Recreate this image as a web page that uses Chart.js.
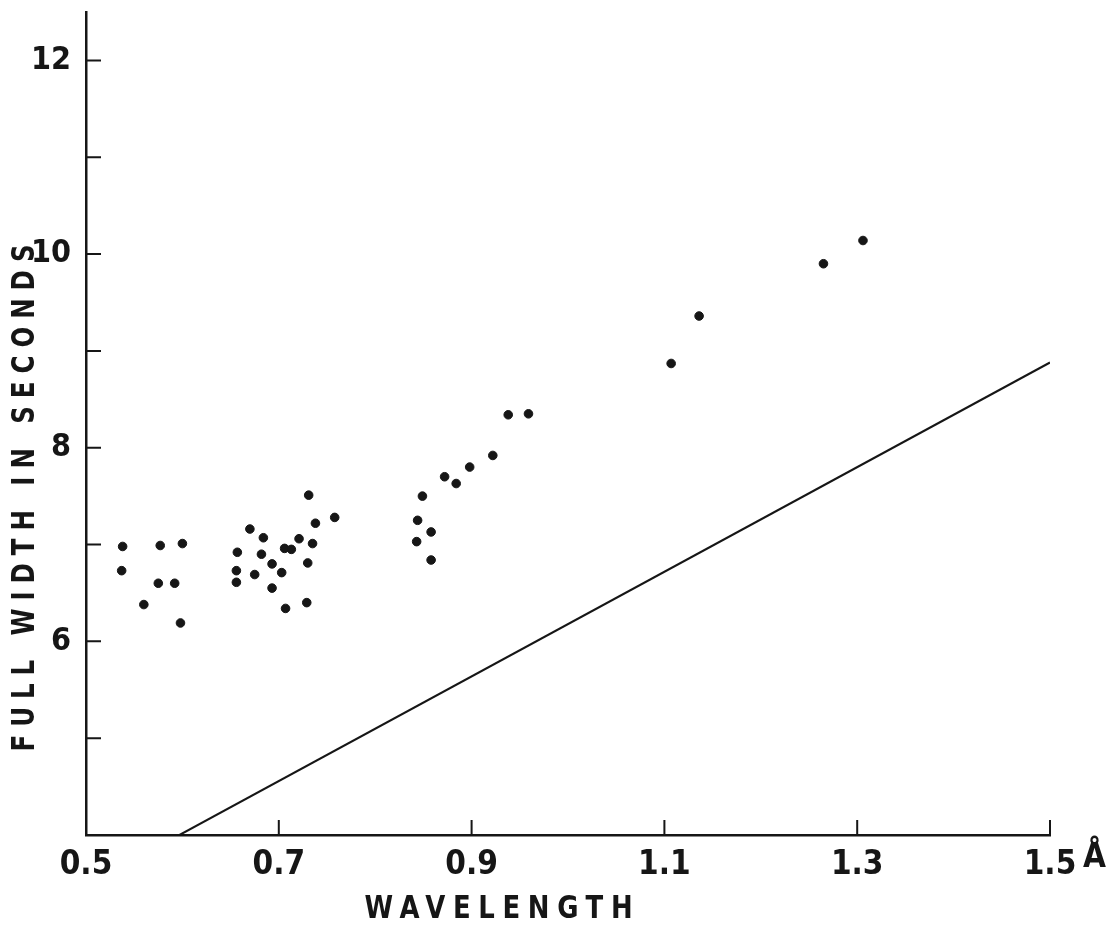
<!DOCTYPE html>
<html>
<head>
<meta charset="utf-8">
<script src="https://cdn.jsdelivr.net/npm/chart.js@4"></script>
<style>
  body { margin: 0; background: #fff; }
  #wrap { width: 1112px; height: 926px; }
</style>
</head>
<body>
<div id="wrap"><canvas id="widthChart"></canvas></div>
<script>
// measured points (wavelength in A, full width in seconds)
const wavelength = [0.538, 0.537, 0.577, 0.600, 0.575, 0.592, 0.560, 0.598,
    0.670, 0.684, 0.721, 0.738, 0.735, 0.657, 0.682, 0.706, 0.713, 0.693, 0.730,
    0.656, 0.675, 0.703, 0.656, 0.693, 0.707, 0.729, 0.731, 0.758,
    0.849, 0.844, 0.858, 0.843, 0.858, 0.872, 0.884, 0.898, 0.922, 0.938, 0.959,
    1.107, 1.136, 1.265, 1.306];
const fullWidth = [6.98, 6.73, 6.99, 7.01, 6.60, 6.60, 6.38, 6.19,
    7.16, 7.07, 7.06, 7.22, 7.01, 6.92, 6.90, 6.96, 6.95, 6.80, 6.81,
    6.73, 6.69, 6.71, 6.61, 6.55, 6.34, 6.40, 7.51, 7.28,
    7.50, 7.25, 7.13, 7.03, 6.84, 7.70, 7.63, 7.80, 7.92, 8.34, 8.35,
    8.87, 9.36, 9.90, 10.14];

// straight reference line
const lineX = [0.597, 1.5];
const lineY = [4, 8.88];

const xTicks = [0.5, 0.7, 0.9, 1.1, 1.3, 1.5];
const yTicks = [5, 6, 7, 8, 9, 10, 11, 12];
const yLabelled = [6, 8, 10, 12];

const xTitle = 'WAVELENGTH';
const yTitle = 'FULL WIDTH IN SECONDS';
const unitLabel = 'Å';

const FONT = "'DejaVu Sans Condensed', 'DejaVu Sans', sans-serif";
const INK = '#161616';

// narrow, spaced-out lettering for the axis titles (centred on 0,0)
function spacedText(ctx, text, target, squeeze) {
    ctx.scale(squeeze, 1);
    const span = target / squeeze;
    ctx.letterSpacing = '0px';
    const w = ctx.measureText(text).width;
    const gap = Math.max(0, (span - w) / (text.length - 1));
    ctx.letterSpacing = gap + 'px';
    ctx.textAlign = 'left';
    ctx.fillText(text, -span / 2, 0);
}

// tick marks point into the plot on this drawing
const inwardTicks = {
    id: 'inwardTicks',
    afterDatasetsDraw(chart) {
        const { ctx, chartArea, scales } = chart;
        ctx.save();
        ctx.strokeStyle = INK;
        ctx.lineWidth = 2;
        ctx.beginPath();
        xTicks.forEach(v => {
            const px = scales.x.getPixelForValue(v);
            ctx.moveTo(px, chartArea.bottom);
            ctx.lineTo(px, chartArea.bottom - 15);
        });
        yTicks.forEach(v => {
            const py = scales.y.getPixelForValue(v);
            ctx.moveTo(chartArea.left, py);
            ctx.lineTo(chartArea.left + 15, py);
        });
        ctx.stroke();
        ctx.restore();
    }
};

const axisTitles = {
    id: 'axisTitles',
    afterDraw(chart) {
        const ctx = chart.ctx;
        const xs = chart.scales.x;

        ctx.save();
        ctx.fillStyle = INK;
        ctx.textBaseline = 'middle';
        ctx.font = 'bold 32px ' + FONT;
        ctx.translate(xs.getPixelForValue(0.928), 910);
        spacedText(ctx, xTitle, 268, 0.9);
        ctx.restore();

        ctx.save();
        ctx.fillStyle = INK;
        ctx.textBaseline = 'middle';
        ctx.font = 'bold 32px ' + FONT;
        ctx.translate(26, 498);
        ctx.rotate(-Math.PI / 2);
        spacedText(ctx, yTitle, 507, 0.85);
        ctx.restore();

        ctx.save();
        ctx.fillStyle = INK;
        ctx.font = 'bold 33px ' + FONT;
        ctx.textAlign = 'left';
        ctx.textBaseline = 'middle';
        ctx.fillText(unitLabel, xs.getPixelForValue(1.5) + 33, 858);
        ctx.restore();
    }
};

const ctx = document.getElementById('widthChart').getContext('2d');

new Chart(ctx, {
    type: 'scatter',
    data: {
        datasets: [{
            label: 'measured',
            data: wavelength.map((w, i) => ({ x: w, y: fullWidth[i] })),
            backgroundColor: INK,
            borderColor: INK,
            pointRadius: 4.3,
            pointHoverRadius: 4.3
        }, {
            label: 'line',
            type: 'line',
            data: lineX.map((w, i) => ({ x: w, y: lineY[i] })),
            borderColor: INK,
            borderWidth: 2,
            pointRadius: 0,
            fill: false
        }]
    },
    options: {
        responsive: true,
        maintainAspectRatio: false,
        animation: false,
        layout: { padding: { top: 12, right: 62, left: 0, bottom: 0 } },
        plugins: {
            legend: { display: false },
            tooltip: { enabled: false }
        },
        scales: {
            x: {
                type: 'linear',
                min: 0.5,
                max: 1.5,
                afterBuildTicks: s => { s.ticks = xTicks.map(v => ({ value: v })); },
                afterFit: s => { s.height = 91; s.paddingLeft = 0; s.paddingRight = 0; },
                border: { color: INK, width: 2.5 },
                grid: { display: true, drawOnChartArea: false, drawTicks: false },
                ticks: {
                    color: INK,
                    padding: 11,
                    maxRotation: 0,
                    font: { family: FONT, size: 33, weight: 'bold' },
                    callback: v => v.toFixed(1)
                }
            },
            y: {
                type: 'linear',
                min: 4,
                max: 12.5,
                afterBuildTicks: s => { s.ticks = yTicks.map(v => ({ value: v })); },
                afterFit: s => { s.width = 86; s.paddingTop = 0; s.paddingBottom = 0; },
                border: { color: INK, width: 2.5 },
                grid: { display: true, drawOnChartArea: false, drawTicks: false },
                ticks: {
                    color: INK,
                    padding: 15,
                    font: { family: FONT, size: 32, weight: 'bold' },
                    callback: v => yLabelled.includes(v) ? String(v) : ''
                }
            }
        }
    },
    plugins: [inwardTicks, axisTitles]
});
</script>
</body>
</html>
